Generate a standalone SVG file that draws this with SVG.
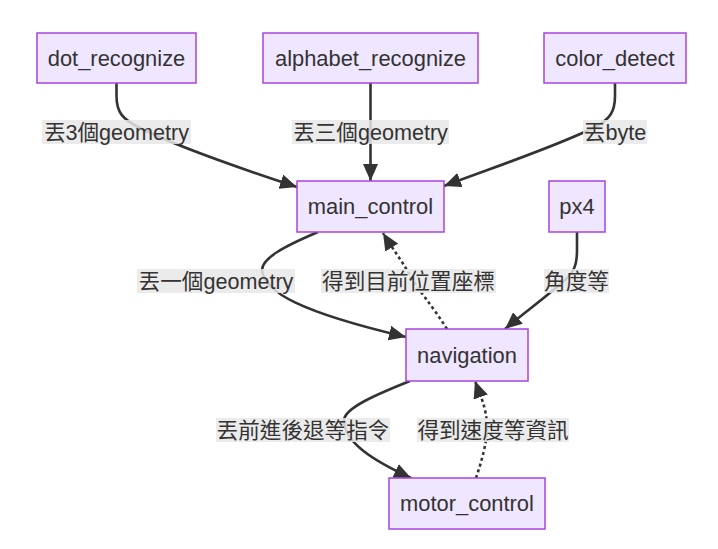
<svg xmlns="http://www.w3.org/2000/svg" width="718" height="549" viewBox="0 0 718 549">
<style>
.node rect{fill:#efe6ff;stroke:#a844e0;stroke-width:1.5}
.node text,.lbl text{font-family:"Liberation Sans","Noto Sans CJK TC",sans-serif;font-size:21.6px;fill:#333;text-anchor:middle}
.node text{font-size:21.9px}
.edge{fill:none;stroke:#333;stroke-width:2.6}
.dot{stroke-dasharray:3,3}
.lbl rect{fill:#e8e8e8;fill-opacity:0.85}
</style>
<defs>
<marker id="arr" viewBox="0 0 10 10" refX="10" refY="5" markerUnits="userSpaceOnUse" markerWidth="17" markerHeight="15" orient="auto" preserveAspectRatio="none">
<path d="M0,0 L10,5 L0,10 z" fill="#333"/>
</marker>
</defs>
<rect width="718" height="549" fill="#fff"/>
<g id="connectors">
<path class="edge" marker-end="url(#arr)" d="M116.5,83 V96 C116.5,112 122,119 140,128 C172,144 230,165 297,187"/>
<path class="edge" marker-end="url(#arr)" d="M370.5,83 V181"/>
<path class="edge" marker-end="url(#arr)" d="M615,83 V96 C615,112 610,119 595,127 C560,145 500,165 444,186"/>
<path class="edge" marker-end="url(#arr)" d="M318,232 C285,246 262,258 262,270 C264,292 300,312 406,337"/>
<path class="edge dot" marker-end="url(#arr)" d="M447,329 C432,305 418,290 410,275 C400,258 392,248 383,233"/>
<path class="edge" marker-end="url(#arr)" d="M577,232 V250 C577,265 574,272 565,280 C545,298 525,312 505,329"/>
<path class="edge" marker-end="url(#arr)" d="M410,381 C375,395 345,408 344,420 C344,442 372,460 411,478"/>
<path class="edge dot" marker-end="url(#arr)" d="M476,478 C482,460 487,442 487,428 C487,408 480,395 475,381"/>
</g>
<g id="edge-labels">
<g class="lbl"><rect x="42" y="120" width="149" height="24"/><text x="116.5" y="139.5">丟3個geometry</text></g>
<g class="lbl"><rect x="292" y="120" width="157" height="24"/><text x="370.5" y="139.5">丟三個geometry</text></g>
<g class="lbl"><rect x="583" y="120" width="64" height="24"/><text x="615" y="139.5">丟byte</text></g>
<g class="lbl"><rect x="137" y="269" width="158" height="24"/><text x="216" y="288.5">丟一個geometry</text></g>
<g class="lbl"><rect x="321" y="269" width="175" height="24"/><text x="408.5" y="288.5">得到目前位置座標</text></g>
<g class="lbl"><rect x="544" y="269" width="65" height="24"/><text x="576.5" y="288.5">角度等</text></g>
<g class="lbl"><rect x="216" y="418" width="174" height="24"/><text x="303" y="437.5">丟前進後退等指令</text></g>
<g class="lbl"><rect x="417" y="418" width="152" height="24"/><text x="493" y="437.5">得到速度等資訊</text></g>
</g>
<g id="dot_recognize" class="node"><rect x="37" y="33" width="159" height="50"/><text x="116.5" y="65.8">dot_recognize</text></g>
<g id="alphabet_recognize" class="node"><rect x="263" y="33" width="215" height="50"/><text x="370.5" y="65.8">alphabet_recognize</text></g>
<g id="color_detect" class="node"><rect x="544" y="33" width="142" height="50"/><text x="615" y="65.8">color_detect</text></g>
<g id="main_control" class="node"><rect x="297" y="181" width="147" height="51"/><text x="370.5" y="214.3">main_control</text></g>
<g id="px4" class="node"><rect x="549" y="181" width="56" height="51"/><text x="577" y="214.3">px4</text></g>
<g id="navigation" class="node"><rect x="406" y="329" width="122" height="52"/><text x="467" y="362.8">navigation</text></g>
<g id="motor_control" class="node"><rect x="389" y="478" width="156" height="51"/><text x="467" y="511.3">motor_control</text></g>
</svg>
